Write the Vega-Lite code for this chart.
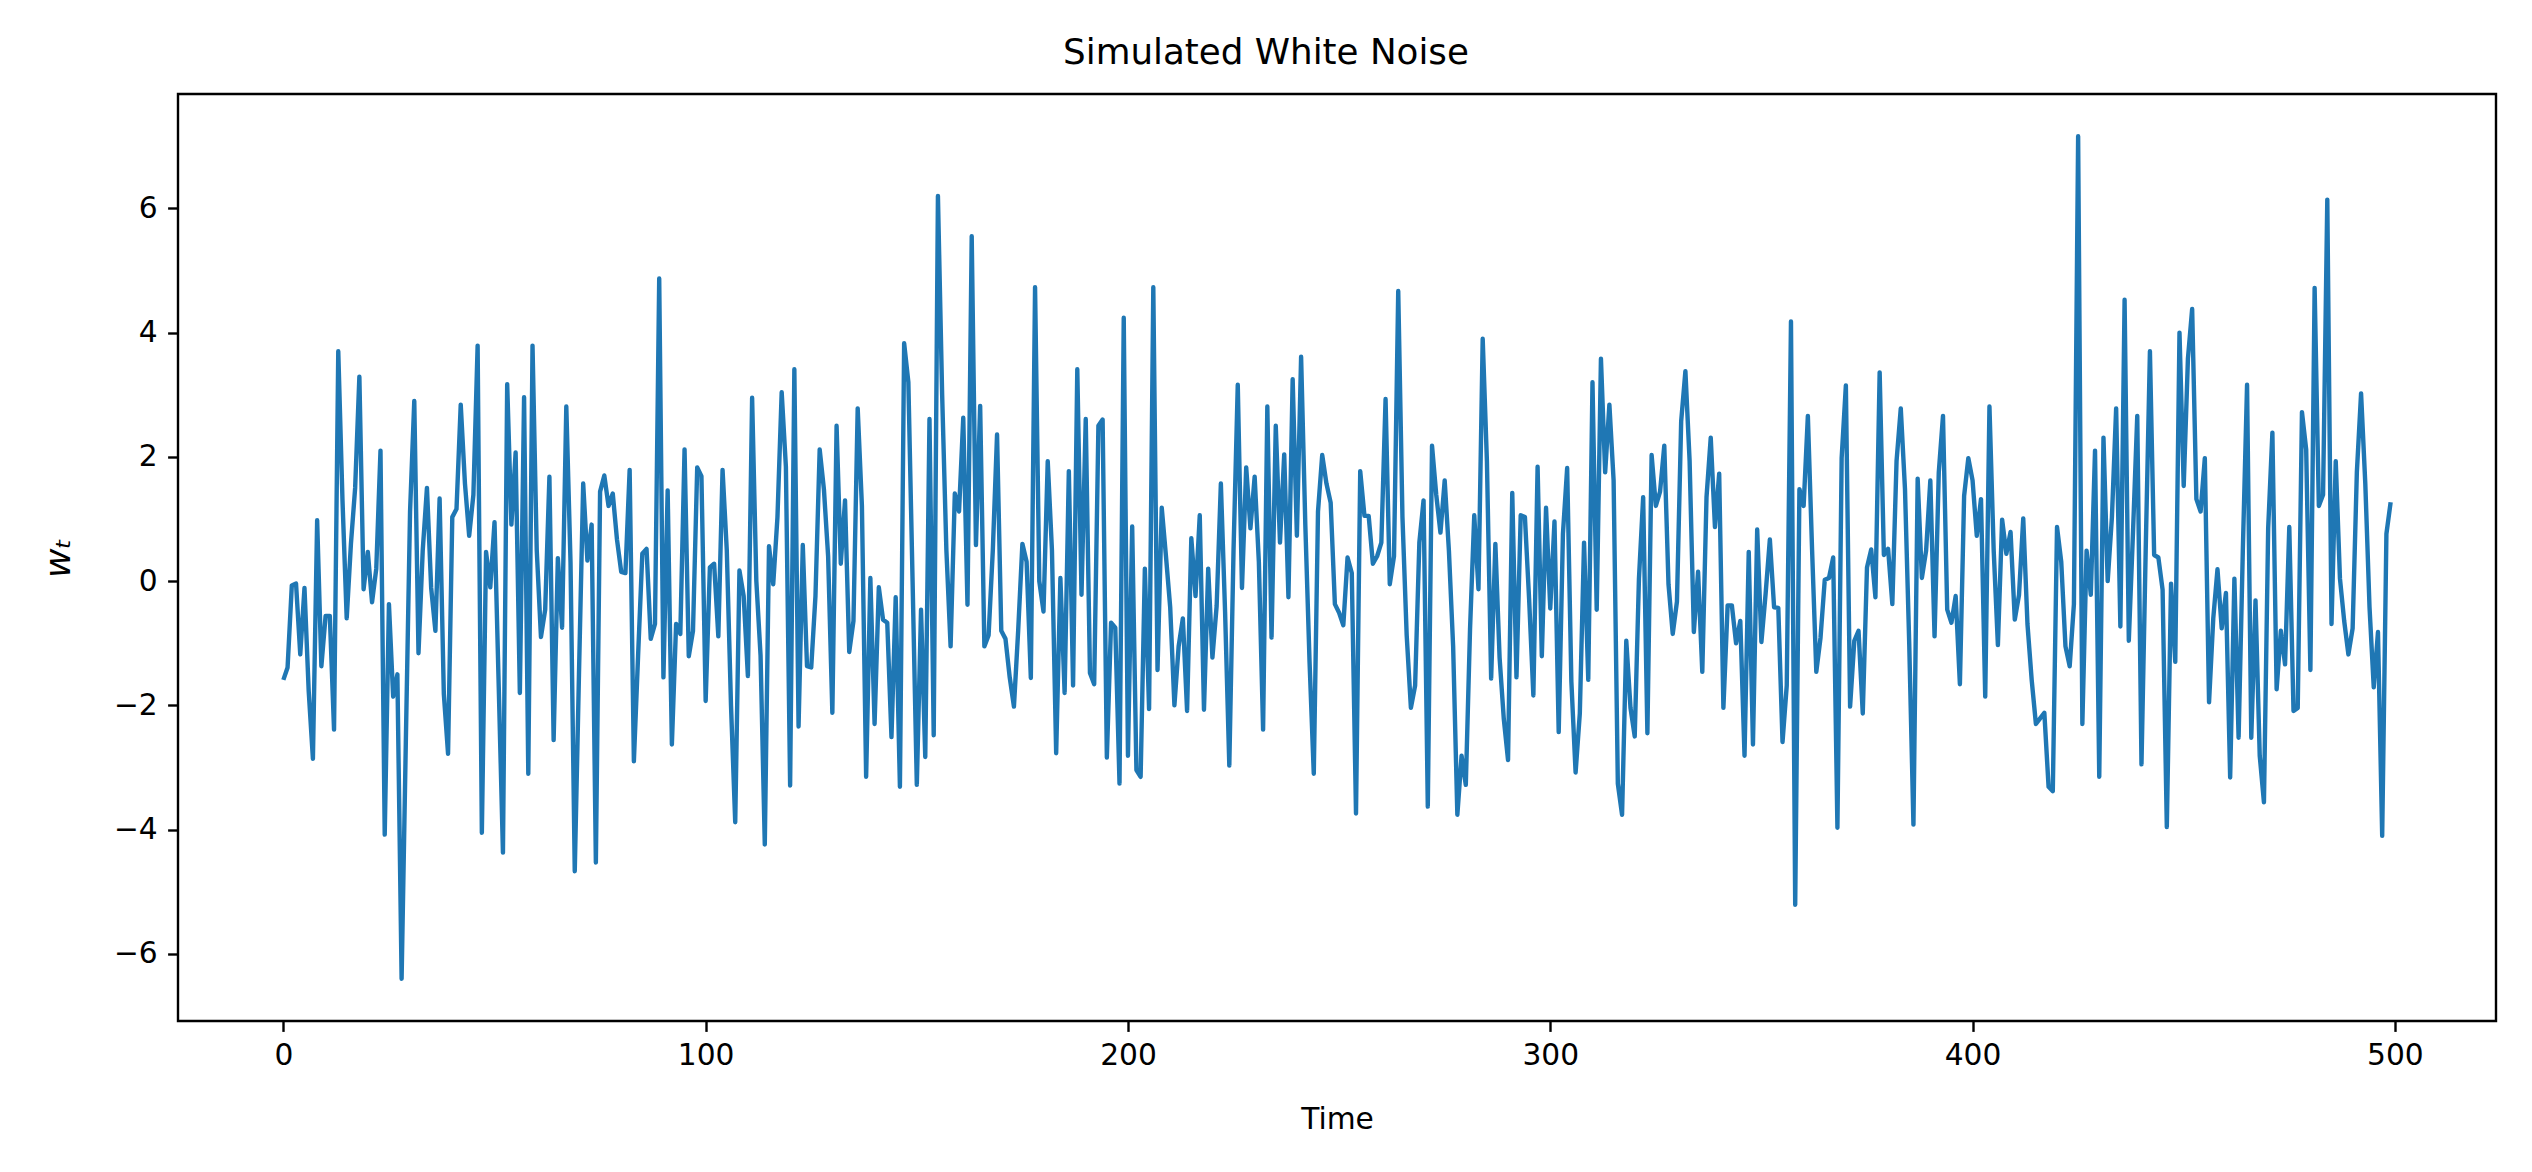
{
  "$schema": "https://vega.github.io/schema/vega-lite/v6.json",
  "width": 2318,
  "height": 927,
  "autosize": {"type": "none"},
  "padding": {"left": 178, "top": 94, "right": 36, "bottom": 151},
  "background": "white",
  "config": {
    "font": "DejaVu Sans",
    "view": {"stroke": "black", "strokeWidth": 2.4},
    "axis": {
      "domain": false,
      "grid": false,
      "tickColor": "black",
      "tickWidth": 2.4,
      "tickSize": 10.4,
      "labelFont": "DejaVu Sans",
      "labelFontSize": 29.7,
      "labelColor": "black",
      "labelPadding": 10.4,
      "labelFlush": false,
      "labelOverlap": false,
      "titleFont": "DejaVu Sans",
      "titleFontSize": 29.7,
      "titleFontWeight": "normal",
      "titleColor": "black",
      "titlePadding": 11.9
    }
  },
  "title": {
    "text": "Simulated White Noise",
    "font": "DejaVu Sans",
    "fontSize": 35.7,
    "fontWeight": "normal",
    "color": "black",
    "anchor": "middle",
    "baseline": "bottom",
    "offset": 21,
    "dx": -71,
    "dy": 34
  },
  "data": {
    "values": [
      {"t":0,"w":-1.59},{"t":1,"w":-1.39},{"t":2,"w":-0.07},{"t":3,"w":-0.04},{"t":4,"w":-1.18},
      {"t":5,"w":-0.11},{"t":6,"w":-1.77},{"t":7,"w":-2.86},{"t":8,"w":0.98},{"t":9,"w":-1.37},
      {"t":10,"w":-0.56},{"t":11,"w":-0.56},{"t":12,"w":-2.39},{"t":13,"w":3.7},{"t":14,"w":1.3},
      {"t":15,"w":-0.6},{"t":16,"w":0.6},{"t":17,"w":1.5},{"t":18,"w":3.29},{"t":19,"w":-0.13},
      {"t":20,"w":0.47},{"t":21,"w":-0.34},{"t":22,"w":0.2},{"t":23,"w":2.1},{"t":24,"w":-4.08},
      {"t":25,"w":-0.37},{"t":26,"w":-1.86},{"t":27,"w":-1.5},{"t":28,"w":-6.4},{"t":29,"w":-2.59},
      {"t":30,"w":1.12},{"t":31,"w":2.9},{"t":32,"w":-1.16},{"t":33,"w":0.49},{"t":34,"w":1.5},
      {"t":35,"w":-0.11},{"t":36,"w":-0.8},{"t":37,"w":1.33},{"t":38,"w":-1.82},{"t":39,"w":-2.78},
      {"t":40,"w":1.03},{"t":41,"w":1.16},{"t":42,"w":2.84},{"t":43,"w":1.57},{"t":44,"w":0.73},
      {"t":45,"w":1.39},{"t":46,"w":3.79},{"t":47,"w":-4.05},{"t":48,"w":0.47},{"t":49,"w":-0.1},
      {"t":50,"w":0.95},{"t":51,"w":-1.7},{"t":52,"w":-4.37},{"t":53,"w":3.17},{"t":54,"w":0.91},
      {"t":55,"w":2.07},{"t":56,"w":-1.8},{"t":57,"w":2.96},{"t":58,"w":-3.1},{"t":59,"w":3.79},
      {"t":60,"w":0.5},{"t":61,"w":-0.9},{"t":62,"w":-0.46},{"t":63,"w":1.68},{"t":64,"w":-2.56},
      {"t":65,"w":0.37},{"t":66,"w":-0.75},{"t":67,"w":2.81},{"t":68,"w":0.3},{"t":69,"w":-4.67},
      {"t":70,"w":-1.5},{"t":71,"w":1.57},{"t":72,"w":0.33},{"t":73,"w":0.91},{"t":74,"w":-4.53},
      {"t":75,"w":1.44},{"t":76,"w":1.7},{"t":77,"w":1.21},{"t":78,"w":1.41},{"t":79,"w":0.67},
      {"t":80,"w":0.15},{"t":81,"w":0.13},{"t":82,"w":1.79},{"t":83,"w":-2.9},{"t":84,"w":-1.2},
      {"t":85,"w":0.44},{"t":86,"w":0.52},{"t":87,"w":-0.93},{"t":88,"w":-0.69},{"t":89,"w":4.87},
      {"t":90,"w":-1.55},{"t":91,"w":1.46},{"t":92,"w":-2.63},{"t":93,"w":-0.69},{"t":94,"w":-0.85},
      {"t":95,"w":2.12},{"t":96,"w":-1.21},{"t":97,"w":-0.8},{"t":98,"w":1.83},{"t":99,"w":1.69},
      {"t":100,"w":-1.93},{"t":101,"w":0.22},{"t":102,"w":0.28},{"t":103,"w":-0.89},{"t":104,"w":1.79},
      {"t":105,"w":0.5},{"t":106,"w":-2.0},{"t":107,"w":-3.88},{"t":108,"w":0.17},{"t":109,"w":-0.24},
      {"t":110,"w":-1.53},{"t":111,"w":2.95},{"t":112,"w":0.0},{"t":113,"w":-1.2},{"t":114,"w":-4.24},
      {"t":115,"w":0.56},{"t":116,"w":-0.05},{"t":117,"w":1.03},{"t":118,"w":3.04},{"t":119,"w":1.84},
      {"t":120,"w":-3.29},{"t":121,"w":3.41},{"t":122,"w":-2.34},{"t":123,"w":0.58},{"t":124,"w":-1.37},
      {"t":125,"w":-1.39},{"t":126,"w":-0.24},{"t":127,"w":2.12},{"t":128,"w":1.48},{"t":129,"w":0.4},
      {"t":130,"w":-2.12},{"t":131,"w":2.5},{"t":132,"w":0.28},{"t":133,"w":1.3},{"t":134,"w":-1.14},
      {"t":135,"w":-0.64},{"t":136,"w":2.78},{"t":137,"w":1.21},{"t":138,"w":-3.15},{"t":139,"w":0.05},
      {"t":140,"w":-2.3},{"t":141,"w":-0.1},{"t":142,"w":-0.62},{"t":143,"w":-0.67},{"t":144,"w":-2.51},
      {"t":145,"w":-0.26},{"t":146,"w":-3.31},{"t":147,"w":3.83},{"t":148,"w":3.2},{"t":149,"w":0.0},
      {"t":150,"w":-3.28},{"t":151,"w":-0.46},{"t":152,"w":-2.83},{"t":153,"w":2.61},{"t":154,"w":-2.48},
      {"t":155,"w":6.2},{"t":156,"w":3.0},{"t":157,"w":0.5},{"t":158,"w":-1.05},{"t":159,"w":1.41},
      {"t":160,"w":1.12},{"t":161,"w":2.63},{"t":162,"w":-0.38},{"t":163,"w":5.55},{"t":164,"w":0.58},
      {"t":165,"w":2.82},{"t":166,"w":-1.05},{"t":167,"w":-0.87},{"t":168,"w":0.5},{"t":169,"w":2.36},
      {"t":170,"w":-0.8},{"t":171,"w":-0.93},{"t":172,"w":-1.55},{"t":173,"w":-2.02},{"t":174,"w":-0.8},
      {"t":175,"w":0.6},{"t":176,"w":0.31},{"t":177,"w":-1.56},{"t":178,"w":4.73},{"t":179,"w":0.0},
      {"t":180,"w":-0.49},{"t":181,"w":1.93},{"t":182,"w":0.5},{"t":183,"w":-2.77},{"t":184,"w":0.05},
      {"t":185,"w":-1.8},{"t":186,"w":1.77},{"t":187,"w":-1.68},{"t":188,"w":3.41},{"t":189,"w":-0.22},
      {"t":190,"w":2.61},{"t":191,"w":-1.48},{"t":192,"w":-1.66},{"t":193,"w":2.5},{"t":194,"w":2.6},
      {"t":195,"w":-2.84},{"t":196,"w":-0.67},{"t":197,"w":-0.75},{"t":198,"w":-3.26},{"t":199,"w":4.24},
      {"t":200,"w":-2.81},{"t":201,"w":0.88},{"t":202,"w":-3.04},{"t":203,"w":-3.15},{"t":204,"w":0.2},
      {"t":205,"w":-2.06},{"t":206,"w":4.73},{"t":207,"w":-1.43},{"t":208,"w":1.18},{"t":209,"w":0.4},
      {"t":210,"w":-0.42},{"t":211,"w":-2.0},{"t":212,"w":-1.05},{"t":213,"w":-0.6},{"t":214,"w":-2.09},
      {"t":215,"w":0.69},{"t":216,"w":-0.24},{"t":217,"w":1.06},{"t":218,"w":-2.07},{"t":219,"w":0.2},
      {"t":220,"w":-1.23},{"t":221,"w":-0.4},{"t":222,"w":1.57},{"t":223,"w":-0.5},{"t":224,"w":-2.97},
      {"t":225,"w":0.5},{"t":226,"w":3.16},{"t":227,"w":-0.11},{"t":228,"w":1.83},{"t":229,"w":0.85},
      {"t":230,"w":1.68},{"t":231,"w":0.3},{"t":232,"w":-2.39},{"t":233,"w":2.81},{"t":234,"w":-0.91},
      {"t":235,"w":2.5},{"t":236,"w":0.62},{"t":237,"w":2.04},{"t":238,"w":-0.26},{"t":239,"w":3.25},
      {"t":240,"w":0.73},{"t":241,"w":3.61},{"t":242,"w":0.9},{"t":243,"w":-1.3},{"t":244,"w":-3.1},
      {"t":245,"w":1.12},{"t":246,"w":2.03},{"t":247,"w":1.57},{"t":248,"w":1.26},{"t":249,"w":-0.37},
      {"t":250,"w":-0.51},{"t":251,"w":-0.71},{"t":252,"w":0.38},{"t":253,"w":0.13},{"t":254,"w":-3.74},
      {"t":255,"w":1.77},{"t":256,"w":1.05},{"t":257,"w":1.05},{"t":258,"w":0.28},{"t":259,"w":0.4},
      {"t":260,"w":0.62},{"t":261,"w":2.93},{"t":262,"w":-0.05},{"t":263,"w":0.4},{"t":264,"w":4.67},
      {"t":265,"w":1.03},{"t":266,"w":-0.87},{"t":267,"w":-2.04},{"t":268,"w":-1.68},{"t":269,"w":0.62},
      {"t":270,"w":1.3},{"t":271,"w":-3.63},{"t":272,"w":2.18},{"t":273,"w":1.39},{"t":274,"w":0.78},
      {"t":275,"w":1.62},{"t":276,"w":0.49},{"t":277,"w":-1.05},{"t":278,"w":-3.76},{"t":279,"w":-2.81},
      {"t":280,"w":-3.28},{"t":281,"w":-0.78},{"t":282,"w":1.06},{"t":283,"w":-0.13},{"t":284,"w":3.9},
      {"t":285,"w":1.93},{"t":286,"w":-1.57},{"t":287,"w":0.6},{"t":288,"w":-1.23},{"t":289,"w":-2.22},
      {"t":290,"w":-2.88},{"t":291,"w":1.42},{"t":292,"w":-1.55},{"t":293,"w":1.06},{"t":294,"w":1.03},
      {"t":295,"w":-0.3},{"t":296,"w":-1.84},{"t":297,"w":1.84},{"t":298,"w":-1.21},{"t":299,"w":1.18},
      {"t":300,"w":-0.44},{"t":301,"w":0.96},{"t":302,"w":-2.43},{"t":303,"w":0.76},{"t":304,"w":1.82},
      {"t":305,"w":-1.62},{"t":306,"w":-3.08},{"t":307,"w":-2.13},{"t":308,"w":0.62},{"t":309,"w":-1.59},
      {"t":310,"w":3.2},{"t":311,"w":-0.46},{"t":312,"w":3.58},{"t":313,"w":1.75},{"t":314,"w":2.84},
      {"t":315,"w":1.62},{"t":316,"w":-3.26},{"t":317,"w":-3.76},{"t":318,"w":-0.96},{"t":319,"w":-2.04},
      {"t":320,"w":-2.5},{"t":321,"w":0.04},{"t":322,"w":1.35},{"t":323,"w":-2.45},{"t":324,"w":2.03},
      {"t":325,"w":1.21},{"t":326,"w":1.44},{"t":327,"w":2.18},{"t":328,"w":-0.05},{"t":329,"w":-0.85},
      {"t":330,"w":-0.33},{"t":331,"w":2.57},{"t":332,"w":3.38},{"t":333,"w":1.93},{"t":334,"w":-0.82},
      {"t":335,"w":0.15},{"t":336,"w":-1.46},{"t":337,"w":1.35},{"t":338,"w":2.31},{"t":339,"w":0.87},
      {"t":340,"w":1.73},{"t":341,"w":-2.04},{"t":342,"w":-0.39},{"t":343,"w":-0.39},{"t":344,"w":-1.0},
      {"t":345,"w":-0.64},{"t":346,"w":-2.81},{"t":347,"w":0.47},{"t":348,"w":-2.63},{"t":349,"w":0.83},
      {"t":350,"w":-0.98},{"t":351,"w":-0.2},{"t":352,"w":0.67},{"t":353,"w":-0.42},{"t":354,"w":-0.43},
      {"t":355,"w":-2.59},{"t":356,"w":-1.68},{"t":357,"w":4.18},{"t":358,"w":-5.21},{"t":359,"w":1.48},
      {"t":360,"w":1.21},{"t":361,"w":2.66},{"t":362,"w":0.5},{"t":363,"w":-1.46},{"t":364,"w":-0.91},
      {"t":365,"w":0.02},{"t":366,"w":0.05},{"t":367,"w":0.38},{"t":368,"w":-3.97},{"t":369,"w":1.98},
      {"t":370,"w":3.15},{"t":371,"w":-2.02},{"t":372,"w":-0.96},{"t":373,"w":-0.8},{"t":374,"w":-2.13},
      {"t":375,"w":0.22},{"t":376,"w":0.51},{"t":377,"w":-0.26},{"t":378,"w":3.36},{"t":379,"w":0.42},
      {"t":380,"w":0.52},{"t":381,"w":-0.37},{"t":382,"w":1.93},{"t":383,"w":2.78},{"t":384,"w":1.48},
      {"t":385,"w":-1.0},{"t":386,"w":-3.92},{"t":387,"w":1.65},{"t":388,"w":0.05},{"t":389,"w":0.49},
      {"t":390,"w":1.62},{"t":391,"w":-0.89},{"t":392,"w":1.75},{"t":393,"w":2.66},{"t":394,"w":-0.46},
      {"t":395,"w":-0.67},{"t":396,"w":-0.24},{"t":397,"w":-1.66},{"t":398,"w":1.37},{"t":399,"w":1.98},
      {"t":400,"w":1.62},{"t":401,"w":0.73},{"t":402,"w":1.32},{"t":403,"w":-1.86},{"t":404,"w":2.81},
      {"t":405,"w":0.5},{"t":406,"w":-1.03},{"t":407,"w":0.99},{"t":408,"w":0.44},{"t":409,"w":0.79},
      {"t":410,"w":-0.62},{"t":411,"w":-0.22},{"t":412,"w":1.01},{"t":413,"w":-0.69},{"t":414,"w":-1.59},
      {"t":415,"w":-2.3},{"t":416,"w":-2.21},{"t":417,"w":-2.12},{"t":418,"w":-3.31},{"t":419,"w":-3.38},
      {"t":420,"w":0.87},{"t":421,"w":0.31},{"t":422,"w":-1.05},{"t":423,"w":-1.37},{"t":424,"w":-0.37},
      {"t":425,"w":7.16},{"t":426,"w":-2.3},{"t":427,"w":0.49},{"t":428,"w":-0.22},{"t":429,"w":2.1},
      {"t":430,"w":-3.15},{"t":431,"w":2.31},{"t":432,"w":0.0},{"t":433,"w":1.03},{"t":434,"w":2.78},
      {"t":435,"w":-0.73},{"t":436,"w":4.53},{"t":437,"w":-0.96},{"t":438,"w":0.8},{"t":439,"w":2.66},
      {"t":440,"w":-2.95},{"t":441,"w":0.5},{"t":442,"w":3.7},{"t":443,"w":0.42},{"t":444,"w":0.38},
      {"t":445,"w":-0.14},{"t":446,"w":-3.96},{"t":447,"w":-0.04},{"t":448,"w":-1.3},{"t":449,"w":4.0},
      {"t":450,"w":1.53},{"t":451,"w":3.58},{"t":452,"w":4.38},{"t":453,"w":1.32},{"t":454,"w":1.12},
      {"t":455,"w":1.98},{"t":456,"w":-1.95},{"t":457,"w":-0.6},{"t":458,"w":0.19},{"t":459,"w":-0.76},
      {"t":460,"w":-0.19},{"t":461,"w":-3.16},{"t":462,"w":0.04},{"t":463,"w":-2.52},{"t":464,"w":0.5},
      {"t":465,"w":3.16},{"t":466,"w":-2.52},{"t":467,"w":-0.31},{"t":468,"w":-2.81},{"t":469,"w":-3.56},
      {"t":470,"w":0.85},{"t":471,"w":2.39},{"t":472,"w":-1.74},{"t":473,"w":-0.8},{"t":474,"w":-1.34},
      {"t":475,"w":0.87},{"t":476,"w":-2.09},{"t":477,"w":-2.04},{"t":478,"w":2.72},{"t":479,"w":2.12},
      {"t":480,"w":-1.43},{"t":481,"w":4.72},{"t":482,"w":1.21},{"t":483,"w":1.39},{"t":484,"w":6.14},
      {"t":485,"w":-0.69},{"t":486,"w":1.93},{"t":487,"w":0.04},{"t":488,"w":-0.64},{"t":489,"w":-1.18},
      {"t":490,"w":-0.76},{"t":491,"w":1.75},{"t":492,"w":3.02},{"t":493,"w":1.57},{"t":494,"w":-0.42},
      {"t":495,"w":-1.71},{"t":496,"w":-0.82},{"t":497,"w":-4.1},{"t":498,"w":0.76},{"t":499,"w":1.27}
    ]
  },
  "mark": {"type": "line", "color": "#1f77b4", "strokeWidth": 4.4, "strokeJoin": "round", "clip": true},
  "encoding": {
    "x": {
      "field": "t",
      "type": "quantitative",
      "scale": {"domain": [-24.95, 523.95], "nice": false, "zero": false},
      "axis": {"title": "Time", "titlePadding": 35, "values": [0, 100, 200, 300, 400, 500], "format": "d"}
    },
    "y": {
      "field": "w",
      "type": "quantitative",
      "scale": {"domain": [-7.08, 7.84], "nice": false, "zero": false},
      "axis": {"title": "wₜ", "titleFontStyle": "italic", "titleFontSize": 36, "titlePadding": 36, "values": [-6, -4, -2, 0, 2, 4, 6], "format": "d"}
    }
  }
}
